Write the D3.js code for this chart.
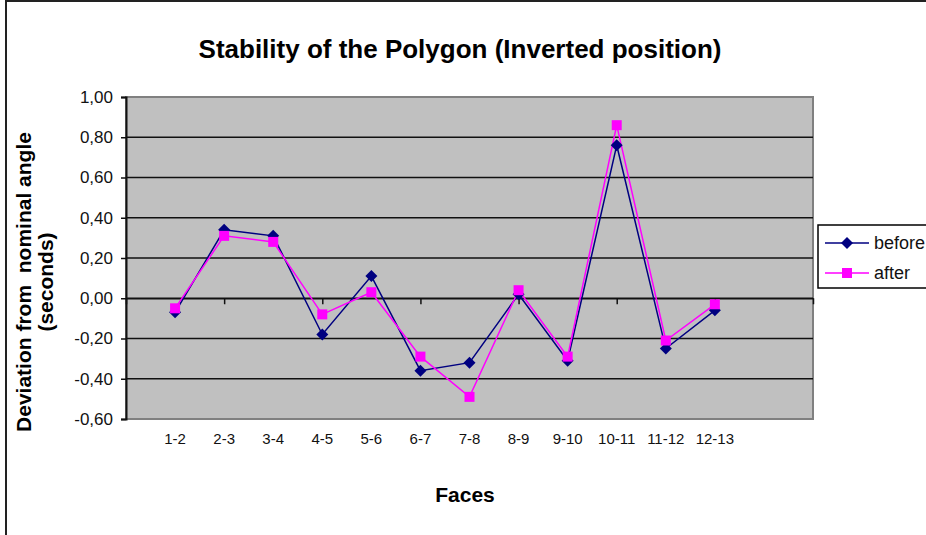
<!DOCTYPE html>
<html>
<head>
<meta charset="utf-8">
<script src="https://cdn.jsdelivr.net/npm/d3@7"></script>
<style>
  body { margin: 0; background: #fff; }
  svg { display: block; font-family: "Liberation Sans", Arial, sans-serif; }
</style>
</head>
<body>
<div id="chart"></div>
<script>
// Data
let faces = ["1-2", "2-3", "3-4", "4-5", "5-6", "6-7", "7-8", "8-9", "9-10", "10-11", "11-12", "12-13"];
let before = [-0.07, 0.34, 0.31, -0.18, 0.11, -0.36, -0.32, 0.02, -0.31, 0.76, -0.25, -0.06];
let after = [-0.05, 0.31, 0.28, -0.08, 0.03, -0.29, -0.49, 0.04, -0.29, 0.86, -0.21, -0.03];
let yTicks = [-0.6, -0.4, -0.2, 0, 0.2, 0.4, 0.6, 0.8, 1.0];
let seriesNames = ["before", "after"];

// Set up dimensions
let width = 926;
let height = 535;
let plot = { left: 126, top: 97, right: 813, bottom: 419 };

// Set up colors
let plotFill = "#c0c0c0";
let gridStroke = "#111";
let borderStroke = "#808080";
let colors = { before: "#000080", after: "#ff00ff" };

// Set up formatter (comma decimals, plain hyphen minus)
let locale = d3.formatLocale({ decimal: ",", thousands: ".", grouping: [3], currency: ["", ""], minus: "-" });
let formatTick = locale.format(".2f");

// Set up scales (category slots 0..14, faces sit on slots 1..12)
let x = d3.scaleLinear().domain([0, 14]).range([plot.left, plot.right]);
let y = d3.scaleLinear().domain([-0.6, 1.0]).range([plot.bottom, plot.top]);

const svg = d3.select("#chart").append("svg").attr("width", width).attr("height", height);

// Outer chart border
svg.append("rect")
  .attr("x", 6).attr("y", 1)
  .attr("width", width + 20).attr("height", height + 20)
  .attr("fill", "#fff")
  .attr("stroke", "#222")
  .attr("stroke-width", 2);

// Plot area
svg.append("rect")
  .attr("x", plot.left).attr("y", plot.top)
  .attr("width", plot.right - plot.left).attr("height", plot.bottom - plot.top)
  .attr("fill", plotFill)
  .attr("stroke", borderStroke)
  .attr("stroke-width", 2);

// Gridlines
svg.append("g")
  .selectAll("line")
  .data(yTicks.filter((d) => d > -0.6 && d < 1.0))
  .join("line")
  .attr("x1", plot.left).attr("x2", plot.right)
  .attr("y1", (d) => y(d)).attr("y2", (d) => y(d))
  .attr("stroke", gridStroke)
  .attr("stroke-width", 1.5);

// Y axis
const yAxisG = svg.append("g")
  .attr("transform", `translate(${plot.left},0)`)
  .call(d3.axisLeft(y).tickValues(yTicks).tickSize(5).tickPadding(8).tickFormat(formatTick));
yAxisG.select(".domain").attr("stroke", "#111").attr("stroke-width", 2);
yAxisG.selectAll(".tick line").attr("stroke", "#111").attr("stroke-width", 1.5);
yAxisG.selectAll(".tick text")
  .attr("fill", "#111")
  .style("font-size", "17px")
  .style("font-family", "'Liberation Sans', Arial, sans-serif");

// X axis (crosses at zero)
const xAxisG = svg.append("g")
  .attr("transform", `translate(0,${y(0)})`)
  .call(d3.axisBottom(x).tickValues(d3.range(0, 15, 2)).tickSize(6).tickSizeOuter(0).tickFormat(""));
xAxisG.select(".domain").attr("stroke", "#111").attr("stroke-width", 1.5);
xAxisG.selectAll(".tick line").attr("stroke", "#111").attr("stroke-width", 1.5);

// X labels
svg.append("g")
  .selectAll("text")
  .data(faces)
  .join("text")
  .attr("x", (d, i) => x(i + 1))
  .attr("y", 444)
  .attr("text-anchor", "middle")
  .attr("fill", "#111")
  .style("font-size", "15px")
  .text((d) => d);

// Lines
let series = [
  { name: "before", values: before },
  { name: "after", values: after },
];
let line = d3.line().x((d, i) => x(i + 1)).y((d) => y(d));

svg.append("g")
  .selectAll("path")
  .data(series)
  .join("path")
  .attr("d", (d) => line(d.values))
  .attr("fill", "none")
  .attr("stroke", (d) => colors[d.name])
  .attr("stroke-width", 1.5);

// Markers
let diamond = "M0,-6L6,0L0,6L-6,0Z";
let square = "M-5,-5H5V5H-5Z";

series.forEach((s) => {
  svg.append("g")
    .selectAll("path")
    .data(s.values)
    .join("path")
    .attr("transform", (d, i) => `translate(${x(i + 1)},${y(d)})`)
    .attr("d", s.name === "before" ? diamond : square)
    .attr("fill", colors[s.name]);
});

// Title
svg.append("text")
  .attr("x", 460).attr("y", 58)
  .attr("text-anchor", "middle")
  .style("font-size", "26px")
  .style("font-weight", "bold")
  .text("Stability of the Polygon (Inverted position)");

// X axis title
svg.append("text")
  .attr("x", 465).attr("y", 502)
  .attr("text-anchor", "middle")
  .style("font-size", "21px")
  .style("font-weight", "bold")
  .text("Faces");

// Y axis title
const yTitle = svg.append("text")
  .attr("transform", "translate(0,282) rotate(-90)")
  .attr("text-anchor", "middle")
  .style("font-size", "21px")
  .style("font-weight", "bold");
yTitle.append("tspan").attr("x", 0).attr("y", 31).attr("xml:space", "preserve").text("Deviation from  nominal angle");
yTitle.append("tspan").attr("x", 0).attr("y", 53).text("(seconds)");

// Legend
let legend = svg.append("g").attr("transform", "translate(818,225)");
legend.append("rect")
  .attr("width", 130).attr("height", 63)
  .attr("fill", "#fff")
  .attr("stroke", "#000")
  .attr("stroke-width", 1.5);

let legendItem = legend.selectAll("g")
  .data(seriesNames)
  .join("g")
  .attr("transform", (d, i) => `translate(0,${18 + i * 30})`);

legendItem.append("line")
  .attr("x1", 7).attr("x2", 51)
  .attr("stroke", (d) => colors[d])
  .attr("stroke-width", 1.5);

legendItem.append("path")
  .attr("transform", "translate(29,0)")
  .attr("d", (d) => (d === "before" ? diamond : square))
  .attr("fill", (d) => colors[d]);

legendItem.append("text")
  .attr("x", 56)
  .attr("dy", "0.35em")
  .attr("fill", "#111")
  .style("font-size", "18px")
  .text((d) => d);
</script>
</body>
</html>
